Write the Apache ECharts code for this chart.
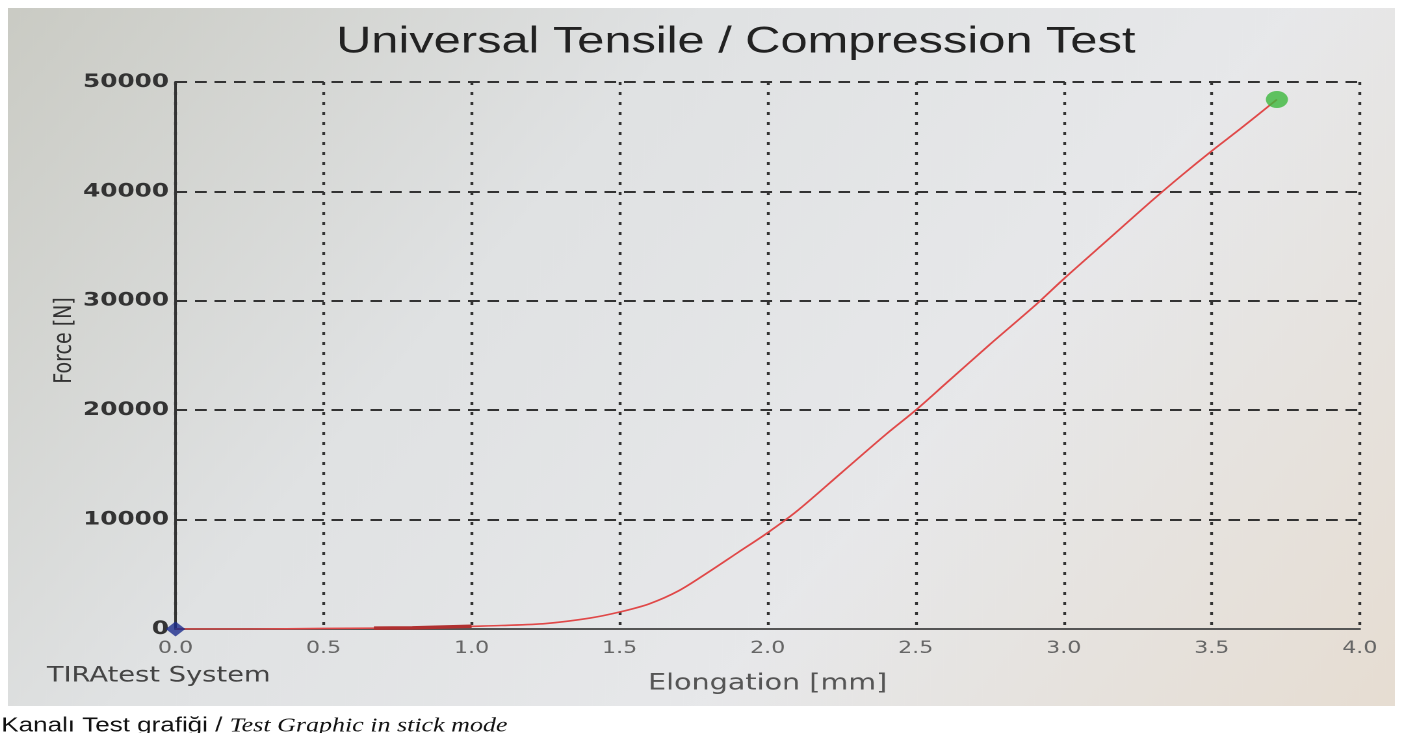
<!DOCTYPE html>
<html>
<head>
<meta charset="utf-8">
<script src="https://cdn.jsdelivr.net/npm/echarts@6/dist/echarts.min.js"></script>
<style>
html,body{margin:0;padding:0;background:#ffffff;overflow:hidden;width:1410px;height:733px;}
/* the photographed screen is stretched horizontally by about 1.3 */
#chart{width:1085px;height:733px;transform:scaleX(1.3);transform-origin:0 0;}
</style>
</head>
<body>
<div id="chart"></div>
<script>
// Elongation [mm] and Force [N]
const elongation = [0, 0.25, 0.5, 0.67, 0.8, 1.0, 1.1, 1.25, 1.4, 1.5, 1.6, 1.7, 1.8, 1.9, 2.0, 2.1, 2.25, 2.4, 2.5, 2.6, 2.75, 2.9, 3.0, 3.15, 3.3, 3.4, 3.5, 3.6, 3.72];
const force = [0, 0, 50, 80, 100, 250, 320, 500, 1000, 1550, 2300, 3500, 5200, 7000, 8800, 10800, 14300, 17800, 20000, 22400, 26000, 29500, 32000, 35600, 39200, 41500, 43700, 45800, 48400];
// darker, denser segment near the axis
const denseX = [0.67, 0.8, 1.0];
const denseY = [80, 100, 250];
const xTicks = ['0.0','0.5','1.0','1.5','2.0','2.5','3.0','3.5','4.0'];
const yTicks = [0, 10000, 20000, 30000, 40000, 50000];
const startPoint = [0, 0];
const endPoint = [3.72, 48400];

const mainData = elongation.map((x, i) => [x, force[i]]);
const denseData = denseX.map((x, i) => [x, denseY[i]]);

const chart = echarts.init(document.getElementById('chart'), null, {devicePixelRatio: 2});
chart.setOption({
  animation: false,
  backgroundColor: 'transparent',
  graphic: [
    {
      type: 'rect', z: -10, silent: true,
      shape: {x: 6, y: 8, width: 1067, height: 698},
      style: {
        fill: {
          type: 'linear', x: 0, y: 0, x2: 1, y2: 1,
          colorStops: [
            {offset: 0, color: '#cacbc4'},
            {offset: 0.35, color: '#e0e2e3'},
            {offset: 0.65, color: '#e7e8ea'},
            {offset: 1, color: '#e6ddd2'}
          ]
        }
      }
    },
    {
      type: 'text', x: 566, y: 42, silent: true,
      style: {
        text: 'Universal Tensile / Compression Test',
        font: '37.5px "Liberation Sans"', fill: '#222',
        align: 'center', verticalAlign: 'middle'
      }
    },
    {
      type: 'text', x: 36, y: 676, silent: true,
      style: {text: 'TIRAtest System', font: '21px "DejaVu Sans"', fill: '#444', verticalAlign: 'middle'}
    },
    {
      type: 'text', left: 1, top: 716, silent: true,
      style: {
        text: '{a|Kanalı Test grafiği / }{b|Test Graphic in stick mode}',
        rich: {
          a: {font: '20px "Liberation Sans"', fill: '#111'},
          b: {font: 'italic 20px "Liberation Serif"', fill: '#111'}
        }
      }
    }
  ],
  grid: {left: 135, right: 39, top: 82, bottom: 104},
  xAxis: {
    type: 'value', min: 0, max: 4, interval: 0.5,
    name: 'Elongation [mm]', nameLocation: 'middle', nameGap: 44,
    nameTextStyle: {fontFamily: 'DejaVu Sans', fontSize: 22, color: '#555'},
    axisLine: {show: true, lineStyle: {color: '#555', width: 2}},
    axisTick: {show: false},
    axisLabel: {
      margin: 11, fontFamily: 'DejaVu Sans', fontSize: 17, color: '#666',
      formatter: v => xTicks[Math.round(v / 0.5)]
    },
    splitLine: {show: true, lineStyle: {color: '#333', width: 2.2, type: [3, 7]}}
  },
  yAxis: {
    type: 'value', min: 0, max: 50000, interval: 10000,
    name: 'Force [N]', nameLocation: 'middle', nameGap: 76, nameRotate: 90,
    nameMoveOverlap: false,
    nameTextStyle: {fontFamily: 'DejaVu Sans', fontSize: 19, color: '#333', padding: [0, 0, 0, 30]},
    axisLine: {show: true, lineStyle: {color: '#333', width: 2}},
    axisTick: {show: false},
    axisLabel: {
      margin: 5, fontFamily: 'DejaVu Sans', fontSize: 19, fontWeight: 'bold', color: '#333',
      formatter: v => String(yTicks[Math.round(v / 10000)])
    },
    splitLine: {show: true, lineStyle: {color: '#333', width: 2, type: [9, 6]}}
  },
  series: [
    {
      type: 'line', data: mainData, showSymbol: false, smooth: 0.3,
      lineStyle: {color: '#e04848', width: 1.6}, z: 3
    },
    {
      type: 'line', data: denseData, showSymbol: false,
      lineStyle: {color: '#b03030', width: 3.5}, z: 4
    },
    {
      type: 'scatter', data: [startPoint], symbol: 'diamond', symbolSize: 15,
      itemStyle: {color: '#1c2c8c'}, z: 5
    },
    {
      type: 'scatter', data: [endPoint], symbol: 'circle', symbolSize: 17,
      itemStyle: {color: '#3cb83c'}, z: 5
    }
  ]
});
</script>
</body>
</html>
